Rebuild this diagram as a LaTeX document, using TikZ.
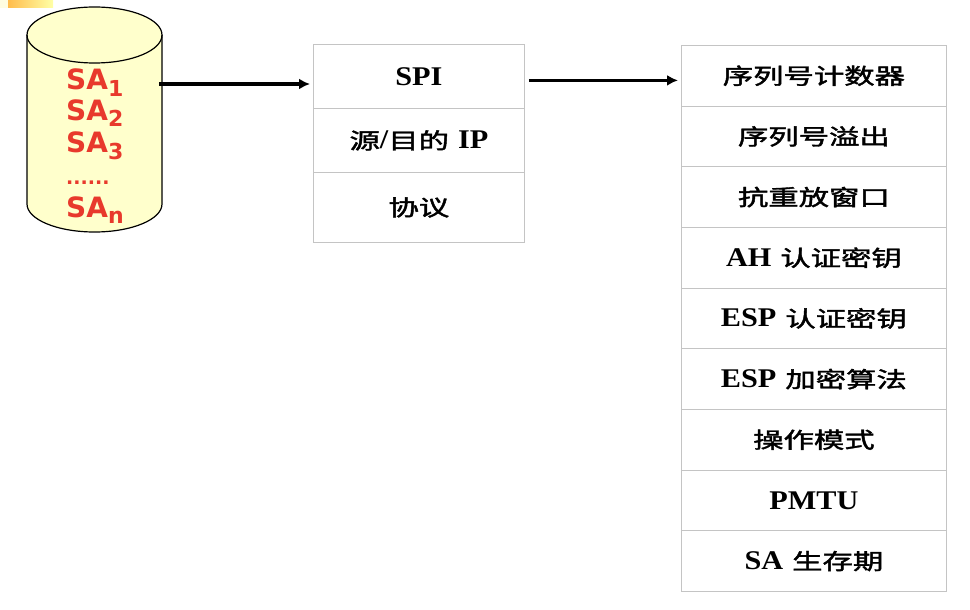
\documentclass[tikz,border=0pt]{standalone}
\usepackage{fontspec}
\usepackage{graphicx}
\setmainfont{Liberation Serif}
\newfontfamily\cjkf{Noto Sans CJK SC}[FakeBold=1.6]
\newfontfamily\safont{DejaVu Sans}
\usetikzlibrary{arrows.meta,calc}
\definecolor{cylfill}{HTML}{FFFFCC}
\definecolor{sared}{HTML}{E8392C}
\definecolor{gridgray}{HTML}{C4C4C4}
\newcommand\zh[1]{\scalebox{1.38}[1]{\cjkf\fontsize{22}{26}\selectfont #1}}
\newcommand\lat[1]{\scalebox{1.12}[1]{\fontsize{27}{30}\selectfont\bfseries #1}}
\newcommand\gap{\hspace{9pt}}
\newcommand\salabel[1]{SA\raisebox{-6pt}{\fontsize{22}{22}\selectfont #1}}
\tikzset{
  cell/.style={draw=gridgray, line width=0.8pt, anchor=north west, inner sep=0pt},
  satext/.style={anchor=base west, inner sep=0pt, text=sared,
    font=\safont\bfseries\fontsize{28}{30}\selectfont},
  bigarrow/.style={line width=3.6pt, shorten >=3pt, -{Latex[length=11pt,width=11pt]}},
}
\begin{document}
\begin{tikzpicture}[x=1pt,y=1pt]
\useasboundingbox (0,0) rectangle (970,-610);
% top-left decoration bar
\fill[color=white!70!yellow!40] (0,0) rectangle (8,-8);
\shade[left color=orange!75!yellow!70, right color=yellow!35] (8,0) rectangle (53,-8);
% cylinder
\fill[cylfill] (27,-35) -- (27,-204) arc[start angle=180,end angle=360,x radius=67.5,y radius=28]
  -- (162,-35) arc[start angle=0,end angle=180,x radius=67.5,y radius=28] -- cycle;
\draw[line width=1.2pt] (94.5,-35) ellipse [x radius=67.5,y radius=28];
\draw[line width=1.2pt] (27,-35) -- (27,-204) arc[start angle=180,end angle=360,x radius=67.5,y radius=28] -- (162,-35);
\node[satext] (sa1) at (66,-90) {\salabel{1}};
\node[satext] (sa2) at (66,-121) {\salabel{2}};
\node[satext] (sa3) at (66,-153) {\salabel{3}};
\node[satext, font=\safont\bfseries\fontsize{19}{20}\selectfont] (sadots) at (66,-184) {......};
\node[satext] (san) at (66,-217) {\salabel{n}};
\coordinate (cylR) at (159,-84);
% middle table
\node[cell, minimum width=211pt, minimum height=64pt] (m1) at (313,-44) {\lat{SPI}};
\node[cell, minimum width=211pt, minimum height=64pt] (m2) at (313,-108) {\zh{源}\lat{/}\zh{目的}\gap\lat{IP}};
\node[cell, minimum width=211pt, minimum height=70pt] (m3) at (313,-172) {\zh{协议}};
% right table
\foreach \i/\t in {1/{\zh{序列号计数器}},2/{\zh{序列号溢出}},3/{\zh{抗重放窗口}},4/{\lat{AH}\gap\zh{认证密钥}},5/{\lat{ESP}\gap\zh{认证密钥}},6/{\lat{ESP}\gap\zh{加密算法}},7/{\zh{操作模式}},8/{\lat{PMTU}},9/{\lat{SA}\gap\zh{生存期}}}{
  \node[cell, minimum width=265pt, minimum height=60.67pt] (r\i) at (681,{-45-60.67*(\i-1)}) {\t};
}
% arrows
\draw[bigarrow] (cylR) -- (cylR -| m1.west);
\coordinate (a2s) at ($(m1.east)+(4,-4)$);
\draw[bigarrow] (a2s) -- (a2s -| r1.west);
\end{tikzpicture}
\end{document}
